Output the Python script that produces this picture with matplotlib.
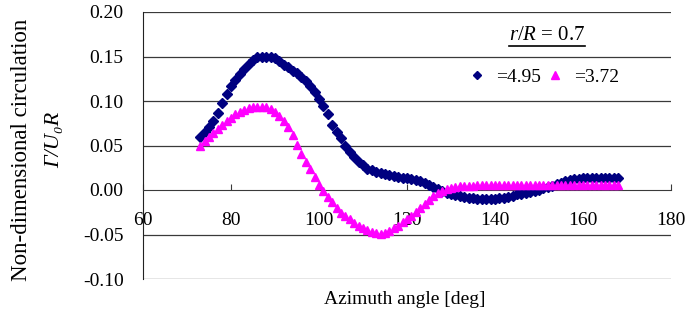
import matplotlib
matplotlib.use("Agg")
import matplotlib.pyplot as plt
from matplotlib.lines import Line2D

plt.rcParams['font.family'] = ['Liberation Serif', 'DejaVu Serif']
plt.rcParams['mathtext.fontset'] = 'custom'
plt.rcParams['mathtext.rm'] = 'Liberation Serif'
plt.rcParams['mathtext.it'] = 'Liberation Serif:italic'

azimuth = list(range(73, 169))

circ_495 = [
    0.059, 0.065, 0.071, 0.077, 0.087, 0.098, 0.108, 0.117, 0.124, 0.130,
    0.136, 0.142, 0.146, 0.149, 0.150, 0.150, 0.149, 0.148, 0.145, 0.141,
    0.138, 0.134, 0.131, 0.127, 0.123, 0.117, 0.110, 0.102, 0.094, 0.085,
    0.073, 0.065, 0.058, 0.050, 0.043, 0.037, 0.032, 0.028, 0.024, 0.022,
    0.020, 0.019, 0.018, 0.017, 0.016, 0.015, 0.014, 0.013, 0.012, 0.011,
    0.010, 0.008, 0.006, 0.003, 0.001, -0.001, -0.003, -0.005, -0.006, -0.007,
    -0.008, -0.009, -0.009, -0.010, -0.010, -0.010, -0.010, -0.010, -0.009, -0.009,
    -0.008, -0.007, -0.005, -0.004, -0.003, -0.002, -0.001, 0.000, 0.002, 0.003,
    0.005, 0.007, 0.008, 0.010, 0.011, 0.012, 0.012, 0.013, 0.013, 0.013,
    0.013, 0.013, 0.013, 0.013, 0.013, 0.013,
]

circ_372 = [
    0.050, 0.055, 0.060, 0.064, 0.068, 0.073, 0.077, 0.081, 0.085, 0.088,
    0.090, 0.092, 0.093, 0.093, 0.093, 0.093, 0.091, 0.088, 0.083, 0.078,
    0.071, 0.062, 0.051, 0.040, 0.032, 0.024, 0.015, 0.006, -0.001, -0.008,
    -0.014, -0.020, -0.026, -0.029, -0.033, -0.037, -0.040, -0.043, -0.045, -0.047,
    -0.048, -0.049, -0.048, -0.046, -0.043, -0.040, -0.036, -0.033, -0.029, -0.025,
    -0.020, -0.016, -0.011, -0.007, -0.003, -0.001, 0.001, 0.002, 0.003, 0.004,
    0.0045, 0.005, 0.005, 0.0055, 0.0055, 0.0055, 0.0055, 0.0055, 0.0055, 0.0055,
    0.0055, 0.0055, 0.0055, 0.0055, 0.0055, 0.0055, 0.0055, 0.0055, 0.0055, 0.0055,
    0.0055, 0.0055, 0.0055, 0.0055, 0.0055, 0.0055, 0.0055, 0.0055, 0.0055, 0.0055,
    0.0055, 0.0055, 0.0055, 0.0055, 0.0055, 0.0055,
]

series_labels = ['=4.95', '=3.72']
x_ticks = [60, 80, 100, 120, 140, 160, 180]
y_ticks = [-0.10, -0.05, 0.00, 0.05, 0.10, 0.15, 0.20]

fig = plt.figure(figsize=(6.96, 3.2), dpi=100)
ax = fig.add_axes([143/696, 41/320, 528/696, 267/320])

ax.set_xlim(60, 180)
ax.set_ylim(-0.10, 0.20)

for yv in y_ticks:
    if yv != 0:
        ax.axhline(yv, color='#3a3a3a', lw=0.9, zorder=1)

ax.plot(azimuth, circ_495, linestyle='none', marker='D', ms=4.6,
        color='#000080', mec='#000080', label=series_labels[0], zorder=3)
ax.plot(azimuth, circ_372, linestyle='none', marker='^', ms=5.8,
        color='#FF00FF', mec='#FF00FF', label=series_labels[1], zorder=4)

for s in ['top', 'right']:
    ax.spines[s].set_visible(False)
ax.spines['bottom'].set_position(('data', 0))
ax.spines['bottom'].set_color('#3a3a3a')
ax.spines['left'].set_color('#222222')

ax.set_xticks(x_ticks)
ax.set_xticklabels([str(v) for v in x_ticks])
ax.set_yticks(y_ticks)
ax.set_yticklabels([f'{v:.2f}' for v in y_ticks])
ax.tick_params(axis='x', direction='in', length=4, pad=16, labelsize=14, color='#3a3a3a')
ax.tick_params(axis='y', length=0, pad=14, labelsize=14)

fig.text(405/696, 1 - 300/320, 'Azimuth angle [deg]', ha='center', va='center', fontsize=14)
fig.text(22/696, 1 - 150/320, 'Non-dimensional circulation', rotation=90,
         ha='center', va='center', fontsize=16.5)
fig.text(55/696, 1 - 140/320, 'Γ/U₀R', rotation=90, fontstyle='italic',
         family=['Liberation Serif', 'DejaVu Serif'],
         ha='center', va='center', fontsize=16)

t = fig.text(547/696, 1 - 35/320, r'$\mathit{r/R}$ = 0.7', ha='center', va='center', fontsize=15)
fig.canvas.draw()
bb = t.get_window_extent(fig.canvas.get_renderer())
uy = bb.y0 - 1
fig.add_artist(Line2D([bb.x0 / 696, bb.x1 / 696], [uy / 320, uy / 320],
                      transform=fig.transFigure, color='black', lw=1.2))

ax.legend(loc='center', bbox_to_anchor=(543/696, 1 - 77/320), bbox_transform=fig.transFigure,
          ncol=2, frameon=False, fontsize=14, handlelength=1.0, handletextpad=0.5,
          columnspacing=0.2, markerscale=0.9)

fig.savefig('out.png', dpi=100)
